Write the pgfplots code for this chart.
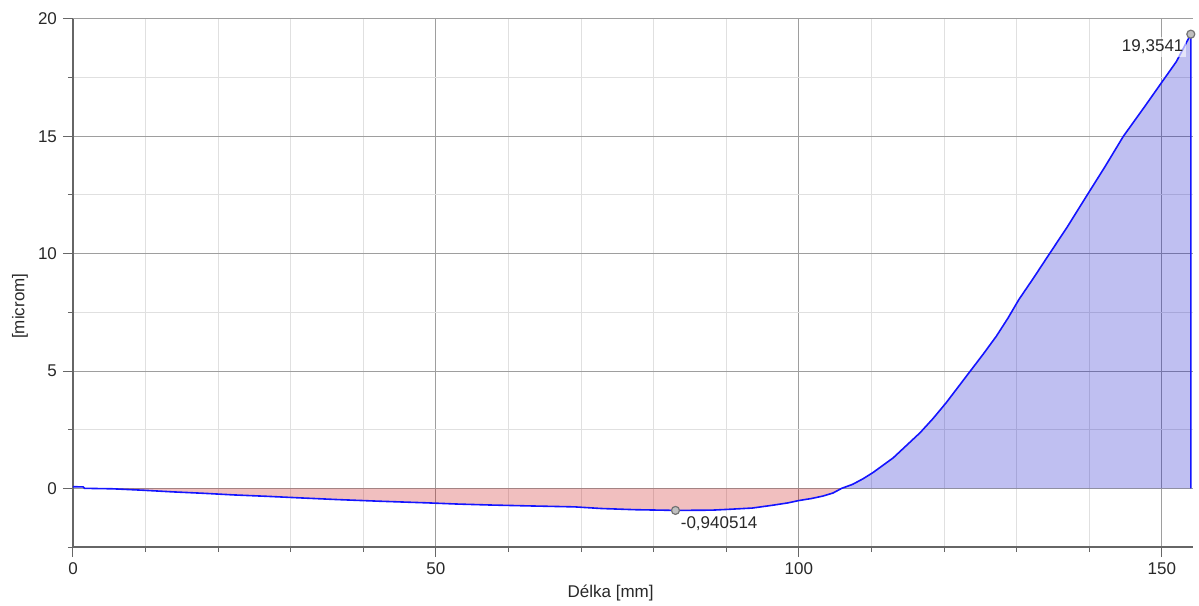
\documentclass[border=0pt]{standalone}
\usepackage{pgfplots}
\pgfplotsset{compat=1.18}
\usepackage{fontspec}
\setmainfont{Liberation Sans}
\definecolor{negfill}{RGB}{200,0,0}
\definecolor{posfill}{RGB}{0,0,200}
\definecolor{curve}{RGB}{20,20,255}
\definecolor{txt}{RGB}{40,40,40}
\begin{document}
\fontsize{8.5}{10}\selectfont
\begin{tikzpicture}
\begin{axis}[
  scale only axis,
  width=560pt, height=264pt,
  xmin=0, xmax=154.3, ymin=-2.5, ymax=20,
  axis x line*=bottom, axis y line*=left,
  axis line style={-, draw=black!60, line width=0.6pt},
  xtick={0,50,100,150}, minor xtick={10,20,30,40,60,70,80,90,110,120,130,140},
  ytick={0,5,10,15,20}, minor ytick={-2.5,2.5,7.5,12.5,17.5},
  tick align=outside,
  major tick length=5pt, minor tick length=2.5pt,
  tick style={draw=black!60, line width=0.5pt},
  grid=both,
  major grid style={draw=black!38, line width=0.5pt},
  minor grid style={draw=black!12, line width=0.5pt},
  /pgf/number format/assume math mode=true,
  ticklabel style={text=txt},
  xlabel={Délka [mm]}, ylabel={[microm]},
  xlabel style={at={(rel axis cs:0.48,-0.0871)}, anchor=center, text=txt},
  ylabel style={at={(rel axis cs:-0.0473,0.456)}, anchor=center, rotate=0, text=txt},
  clip=false,
]
% negative area
\addplot[draw=none, fill=negfill, fill opacity=0.25] coordinates {
(1.6,0) (5.5,-0.02) (9.6,-0.08) (13.7,-0.15) (17.9,-0.21) (22.1,-0.28) (26.7,-0.34)
(31.5,-0.41) (36.5,-0.48) (42.3,-0.55) (48.9,-0.62) (53,-0.67) (57.4,-0.71) (63,-0.75)
(69.1,-0.79) (72.8,-0.86) (77.4,-0.91) (83,-0.940514) (88,-0.93) (90,-0.90) (93.6,-0.84)
(96.4,-0.72) (98.5,-0.62) (100,-0.52) (101.8,-0.43) (103.3,-0.33) (104.7,-0.2) (105.9,0)
} \closedcycle;
% positive area
\addplot[draw=none, fill=posfill, fill opacity=0.25] coordinates {
(105.9,0) (107.4,0.17) (108.8,0.4) (110.2,0.67) (113,1.3) (116.7,2.37) (118.5,2.98) (120.3,3.65) (123.6,4.99)
(125.4,5.72) (127.2,6.48) (128.8,7.25) (130.3,8.04) (132.3,8.95) (134.3,9.89) (137,11.15) (139.6,12.44) (142.2,13.72) (144.7,15.0) (147.6,16.25) (150.4,17.48)
(152.0,18.18) (154,19.3541) (154,0)
} \closedcycle;
% curve
\addplot[curve, line width=0.8pt] coordinates {
(0,0.07) (1.4,0.06) (1.6,0) (5.5,-0.02) (9.6,-0.08) (13.7,-0.15) (17.9,-0.21) (22.1,-0.28) (26.7,-0.34)
(31.5,-0.41) (36.5,-0.48) (42.3,-0.55) (48.9,-0.62) (53,-0.67) (57.4,-0.71) (63,-0.75)
(69.1,-0.79) (72.8,-0.86) (77.4,-0.91) (83,-0.940514) (88,-0.93) (90,-0.90) (93.6,-0.84)
(96.4,-0.72) (98.5,-0.62) (100,-0.52) (101.8,-0.43) (103.3,-0.33) (104.7,-0.2) (105.9,0)
(107.4,0.17) (108.8,0.4) (110.2,0.67) (113,1.3) (116.7,2.37) (118.5,2.98) (120.3,3.65) (123.6,4.99)
(125.4,5.72) (127.2,6.48) (128.8,7.25) (130.3,8.04) (132.3,8.95) (134.3,9.89) (137,11.15) (139.6,12.44) (142.2,13.72) (144.7,15.0) (147.6,16.25) (150.4,17.48)
(152.0,18.18) (154,19.3541) (154,0)
};
% extreme markers
\addplot[only marks, mark=*, mark size=2pt, mark options={draw=black!55, fill=black!25, line width=0.6pt}]
  coordinates {(83,-0.940514) (154,19.3541)};
\node[anchor=north west, text=txt, inner sep=1pt] at (axis cs:83,-0.940514) [xshift=1.5pt, yshift=-2pt] {-0,940514};
\node[anchor=north east, text=txt, fill=white, fill opacity=0.6, text opacity=1, inner sep=1.5pt] at (axis cs:154,19.3541) [xshift=-2pt, yshift=-1pt] {19,3541};
\coordinate (bl) at (rel axis cs:0,0);
\coordinate (tr) at (rel axis cs:1,1);
\end{axis}
\pgfresetboundingbox
\path (bl) ++(-36.5pt,-29pt) coordinate (A);
\path (tr) ++(3pt,9.5pt) coordinate (B);
\path (A) rectangle (B);
\end{tikzpicture}
\end{document}
